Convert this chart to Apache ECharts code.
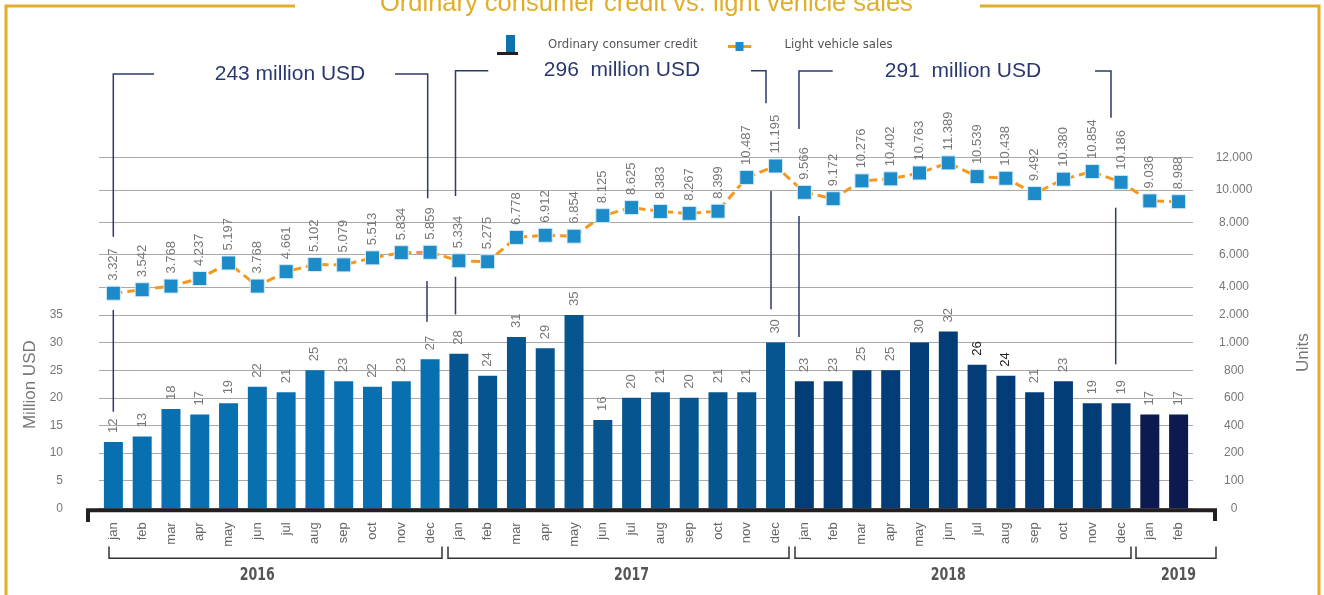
<!DOCTYPE html>
<html>
<head>
<meta charset="utf-8">
<script src="https://cdn.jsdelivr.net/npm/echarts@6/dist/echarts.min.js"></script>
<style>
  html, body { margin: 0; padding: 0; background: #fff; }
  #chart { width: 1324px; height: 595px; }
</style>
</head>
<body>
<div id="chart"></div>
<script>
// month labels, one per bar (2016 jan .. 2019 feb)
const months = [
  'jan','feb','mar','apr','may','jun','jul','aug','sep','oct','nov','dec',
  'jan','feb','mar','apr','may','jun','jul','aug','sep','oct','nov','dec',
  'jan','feb','mar','apr','may','jun','jul','aug','sep','oct','nov','dec',
  'jan','feb'
];
const years = ['2016', '2017', '2018', '2019'];
const monthsPerYear = [12, 12, 12, 2];

// ordinary consumer credit, million USD
const creditValues = [
  12, 13, 18, 17, 19, 22, 21, 25, 23, 22, 23, 27,
  28, 24, 31, 29, 35, 16, 20, 21, 20, 21, 21, 30,
  23, 23, 25, 25, 30, 32, 26, 24, 21, 23, 19, 19,
  17, 17
];

// light vehicle sales, units
const vehicleSales = [
  3327, 3542, 3768, 4237, 5197, 3768, 4661, 5102, 5079, 5513, 5834, 5859,
  5334, 5275, 6778, 6912, 6854, 8125, 8625, 8383, 8267, 8399, 10487, 11195,
  9566, 9172, 10276, 10402, 10763, 11389, 10539, 10438, 9492, 10380, 10854, 10186,
  9036, 8988
];

// right axis tick labels (the axis is broken in the original)
const unitTicksLow = ['0', '100', '200', '400', '600', '800', '1.000', '2.000'];
const unitTicksHigh = ['4.000', '6.000', '8.000', '10.000', '12.000'];

const yearColors = ['#0870b0', '#06558f', '#033d78', '#0c1a4f'];
const yearTotals = ['243 million USD', '296  million USD', '291  million USD'];

// ---------------------------------------------------------------
const FONT = "'Liberation Sans', Arial, sans-serif";
const NARROW = "'Liberation Sans Narrow', 'DejaVu Sans Condensed', 'Liberation Sans', sans-serif";
const GOLD = '#e0ae2b';
const NAVY = '#2e3a6a';
const GRID_LEFT = 99, GRID_WIDTH = 1094;

const yearOf = [];
monthsPerYear.forEach((n, y) => { for (let i = 0; i < n; i++) yearOf.push(y); });
const categories = months.map((m, i) => m + '|' + i);

const barData = creditValues.map((v, i) => ({
  value: v,
  itemStyle: { color: yearColors[yearOf[i]] },
  label: (i === 30 || i === 31) ? { color: '#222' } : undefined
}));

const svg = s => 'image://data:image/svg+xml;charset=utf-8,' + encodeURIComponent(s);
const barIcon = svg("<svg xmlns='http://www.w3.org/2000/svg' width='24' height='20'>" +
  "<rect x='9' y='0' width='9' height='17' fill='#0a72ad'/>" +
  "<rect x='0' y='17' width='21' height='3' fill='#231f20'/></svg>");
const lineIcon = svg("<svg xmlns='http://www.w3.org/2000/svg' width='24' height='20'>" +
  "<rect x='0' y='10' width='24' height='3' fill='#f39a1e'/>" +
  "<rect x='8' y='7' width='8' height='9' fill='#1e8bc9'/></svg>");

const hiddenX = (grid) => ({
  type: 'category', gridIndex: grid, data: categories, show: false, boundaryGap: true
});

const splitStyle = { show: true, lineStyle: { color: '#a9a9a9', width: 1.2 } };

const option = {
  animation: false,
  backgroundColor: '#fff',
  textStyle: { fontFamily: FONT },
  title: {
    text: 'Ordinary consumer credit vs. light vehicle sales',
    left: 375, top: -14,
    textStyle: { color: GOLD, fontSize: 25.5, fontWeight: 'normal', fontFamily: FONT }
  },
  legend: {
    left: 492, top: 30,
    itemWidth: 24, itemHeight: 20, itemGap: 30,
    textStyle: {
      color: '#555', fontSize: 13, fontFamily: NARROW,
      rich: { a: { padding: [0, 0, 0, 22] }, b: { padding: [0, 0, 0, 28] } }
    },
    formatter: name => (name === 'Light vehicle sales' ? '{b|' : '{a|') + name + '}',
    data: [
      { name: 'Ordinary consumer credit', icon: barIcon },
      { name: 'Light vehicle sales', icon: lineIcon }
    ]
  },
  grid: [
    { left: GRID_LEFT, width: GRID_WIDTH, top: 315, height: 193.3 },
    { left: GRID_LEFT, width: GRID_WIDTH, top: 157.7, height: 129.3 },
    { left: GRID_LEFT, width: GRID_WIDTH, top: 153, height: 194 }
  ],
  xAxis: [
    {
      type: 'category', gridIndex: 0, data: categories, boundaryGap: true,
      axisLine: { show: false }, axisTick: { show: false },
      axisLabel: {
        interval: 0, rotate: 90, margin: 14, color: '#666', fontSize: 13,
        formatter: v => v.split('|')[0]
      }
    },
    hiddenX(1),
    hiddenX(2)
  ],
  yAxis: [
    {
      type: 'value', gridIndex: 0, position: 'left', min: 0, max: 35, interval: 5,
      axisLine: { show: false }, axisTick: { show: false },
      axisLabel: { color: '#777', fontSize: 12, margin: 36 },
      splitLine: splitStyle,
      name: 'Million USD', nameLocation: 'middle', nameRotate: 90, nameGap: 60,
      nameTextStyle: { color: '#777', fontSize: 17, padding: [0, 0, 0, 54] }
    },
    {
      type: 'value', gridIndex: 0, position: 'right', min: 0, max: 35, interval: 5,
      axisLine: { show: false }, axisTick: { show: false }, splitLine: { show: false },
      axisLabel: {
        color: '#777', fontSize: 12, margin: 41, align: 'center',
        formatter: v => unitTicksLow[Math.round(v / 5)]
      },
      name: 'Units', nameLocation: 'middle', nameRotate: 90, nameGap: 102,
      nameTextStyle: { color: '#777', fontSize: 17, padding: [0, 0, 0, 118] }
    },
    {
      type: 'value', gridIndex: 1, position: 'right', min: 4000, max: 12000, interval: 2000,
      axisLine: { show: false }, axisTick: { show: false },
      splitLine: splitStyle,
      axisLabel: {
        color: '#777', fontSize: 12, margin: 41, align: 'center',
        formatter: v => unitTicksHigh[Math.round((v - 4000) / 2000)]
      }
    },
    { type: 'value', gridIndex: 2, min: 0, max: 12000, show: false }
  ],
  series: [
    {
      name: 'Ordinary consumer credit',
      type: 'bar', xAxisIndex: 0, yAxisIndex: 0,
      barWidth: 19,
      data: barData,
      label: {
        show: true, position: 'top', rotate: 90, align: 'left', verticalAlign: 'middle',
        distance: 9, color: '#777', fontSize: 13
      }
    },
    {
      name: 'Light vehicle sales',
      type: 'line', xAxisIndex: 2, yAxisIndex: 3,
      data: vehicleSales,
      symbol: 'rect', symbolSize: 14,
      itemStyle: { color: '#1e8bc9', borderColor: '#d5ebf8', borderWidth: 1 },
      lineStyle: { color: '#f39a1e', width: 3, type: [9, 5] },
      label: {
        show: true, position: 'top', rotate: 90, align: 'left', verticalAlign: 'middle',
        distance: 5, color: '#777', fontSize: 13,
        formatter: p => (p.value / 1000).toFixed(3)
      },
      z: 5
    }
  ]
};

const chart = echarts.init(document.getElementById('chart'));
chart.setOption(option);

// decorations: frame, base line, year brackets, total annotations
const px = i => chart.convertToPixel({ xAxisIndex: 0 }, i);
const line = (points, color, width, z) => ({
  type: 'polyline', silent: true, z: z || 50,
  shape: { points: points },
  style: { stroke: color, lineWidth: width, fill: null }
});
const text = (x, y, str, font, color, extra) => Object.assign({
  type: 'text', silent: true, z: 50, x: x, y: y,
  style: { text: str, font: font, fill: color, align: 'center', verticalAlign: 'middle' }
}, extra || {});

const els = [];
// golden frame
els.push(line([[295, 6], [6, 6], [6, 600]], GOLD, 3));
els.push(line([[980, 6], [1319, 6], [1319, 600]], GOLD, 3));
// black base under the bars
els.push(line([[GRID_LEFT - 11, 522], [GRID_LEFT - 11, 510.3], [GRID_LEFT + GRID_WIDTH + 22, 510.3], [GRID_LEFT + GRID_WIDTH + 22, 521]], '#231f20', 4, 100));

// year brackets
const bracketEnds = [[109, 442], [448, 789], [795, 1131], [1136, 1216]];
const yearLabelX = [px(5.1), px(17.6), px(28.8), px(37)];
years.forEach((y, k) => {
  const [a, b] = bracketEnds[k];
  els.push(line([[a, 546.5], [a, 558.3], [b, 558.3], [b, 546.5]], '#333', 1.5));
  els.push(text(yearLabelX[k], 575, y, 'bold 14px ' + NARROW, '#555', { scaleY: 1.3 }));
});

// annotation brackets with yearly totals
const notes = [
  { text: yearTotals[0], cx: 290, y: 74, left: [113.3, 154], right: [395, 427.7],
    lTop: 236.7, lLow: [310, 411.7], rTop: 198.3, rLow: [427, 281, 321.7] },
  { text: yearTotals[1], cx: 622, y: 70.7, left: [455.5, 488.3], right: [751, 766],
    lTop: 196, lLow: [276.7, 314.5], rTop: 103.3, rLow: [771, 191, 309.3] },
  { text: yearTotals[2], cx: 963, y: 71, left: [799, 832.7], right: [1095, 1111],
    lTop: 129, lLow: [216, 337], rTop: 117.7, rLow: [1115.7, 207.7, 364.3] }
];
notes.forEach(n => {
  const lx = n.left[0], rx = n.right[1];
  els.push(line([[n.left[1], n.y], [lx, n.y], [lx, n.lTop]], NAVY, 1.5));
  els.push(line([[lx, n.lLow[0]], [lx, n.lLow[1]]], NAVY, 1.5));
  els.push(line([[n.right[0], n.y], [rx, n.y], [rx, n.rTop]], NAVY, 1.5));
  els.push(line([[n.rLow[0], n.rLow[1]], [n.rLow[0], n.rLow[2]]], NAVY, 1.5));
  els.push(text(n.cx, n.y, n.text, '21px ' + FONT, '#2b3870'));
});

chart.setOption({ graphic: { elements: els } });
</script>
</body>
</html>
